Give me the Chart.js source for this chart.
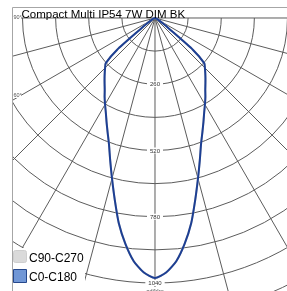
<!DOCTYPE html>
<html lang="en">
<head>
<meta charset="UTF-8">
<title>Compact Multi IP54 7W DIM BK</title>
<script src="https://cdn.jsdelivr.net/npm/chart.js"></script>
<style>
  html, body { margin: 0; padding: 0; background: #fff; }
  #wrap { position: relative; width: 287px; height: 291px; overflow: hidden; }
</style>
</head>
<body>
<div id="wrap"><canvas id="polar" width="287" height="291"></canvas></div>
<script>
const chartTitle = 'Compact Multi IP54 7W DIM BK';
const seriesNames = ['C90-C270', 'C0-C180'];
const unitLabel = 'cd/klm';

// gamma angle in degrees (0 = straight down), intensity in cd/klm
const gammaDeg = [-90, -80, -70, -60, -55, -52.5, -50, -47.5, -45, -42.5, -40, -37.5, -35, -32.5, -30, -27.5, -25, -22.5, -20, -17.5, -15, -12.5, -10, -7.5, -5, -2.5,
  0, 2.5, 5, 7.5, 10, 12.5, 15, 17.5, 20, 22.5, 25, 27.5, 30, 32.5, 35, 37.5, 40, 42.5, 45, 47.5, 50, 52.5, 55, 60, 70, 80, 90];
const c0c180 = [0, 2, 5, 15, 40, 75, 195, 262, 277, 292, 308, 325, 344, 368, 392, 418, 450, 486, 528, 585, 652, 730, 818, 893, 958, 1000,
  1020, 1000, 958, 893, 818, 730, 652, 585, 528, 486, 450, 418, 392, 368, 344, 325, 308, 292, 277, 262, 195, 75, 40, 15, 5, 2, 0];
// C90-C270 is hidden under C0-C180 in the picture
const c90c270 = [0, 2, 5, 15, 40, 75, 195, 262, 277, 292, 308, 325, 344, 368, 392, 418, 450, 486, 528, 585, 652, 730, 818, 893, 958, 1000,
  1020, 1000, 958, 893, 818, 730, 652, 585, 528, 486, 450, 418, 392, 368, 344, 325, 308, 292, 277, 262, 195, 75, 40, 15, 5, 2, 0];

// polar grid
const ringValues = [130, 260, 390, 520, 650, 780, 910, 1040, 1170, 1300];
const ringLabels = [260, 520, 780, 1040];
const spokeAngles = [-90, -75, -60, -45, -30, -15, 0, 15, 30, 45, 60, 75, 90];
const angleLabels = [90, 60, 30];

const rad = d => d * Math.PI / 180;
const toXY = (g, v) => ({ x: v * Math.sin(rad(g)), y: -v * Math.cos(rad(g)) });

// grid, frame, labels and legend drawn with the chart's own scales
const polarGrid = {
    id: 'polarGrid',
    beforeDatasetsDraw(chart) {
        const { ctx, scales: { x, y } } = chart;
        const ox = x.getPixelForValue(0), oy = y.getPixelForValue(0);
        const k = x.getPixelForValue(1) - ox;
        ctx.save();
        ctx.fillStyle = '#fff';
        ctx.fillRect(0, 0, chart.width, chart.height);
        // frame
        ctx.strokeStyle = '#a6a6a6';
        ctx.lineWidth = 1;
        ctx.beginPath();
        ctx.moveTo(12.5, chart.height);
        ctx.lineTo(12.5, 7.5);
        ctx.lineTo(chart.width, 7.5);
        ctx.stroke();

        ctx.beginPath();
        ctx.rect(13, 8, chart.width, chart.height);
        ctx.clip();
        ctx.strokeStyle = '#5c5c5c';
        ctx.lineWidth = 1;
        ringValues.forEach(v => {
            ctx.beginPath();
            ctx.arc(ox, oy, v * k, 0, Math.PI);
            ctx.stroke();
        });
        spokeAngles.forEach(g => {
            const p = toXY(g, 1500);
            ctx.beginPath();
            ctx.moveTo(ox, oy);
            ctx.lineTo(x.getPixelForValue(p.x), y.getPixelForValue(p.y));
            ctx.stroke();
        });

        // ring values on the 0 deg line
        ctx.font = '6px "Liberation Sans", Arial, sans-serif';
        ctx.textAlign = 'center';
        ctx.textBaseline = 'middle';
        ringLabels.forEach(v => {
            const py = y.getPixelForValue(-v);
            const w = ctx.measureText(String(v)).width;
            ctx.fillStyle = '#fff';
            ctx.fillRect(ox - w / 2 - 3, py - 3, w + 6, 6);
            ctx.fillStyle = '#333';
            ctx.fillText(String(v), ox, py + 0.5);
        });
        ctx.fillStyle = '#fff';
        ctx.fillRect(ox - 10, y.getPixelForValue(-1040) + 4, 20, 6);
        ctx.fillStyle = '#444';
        ctx.fillText(unitLabel, ox, y.getPixelForValue(-1040) + 8);

        // angle labels at the left frame
        ctx.font = '5.5px "Liberation Sans", Arial, sans-serif';
        ctx.textAlign = 'left';
        angleLabels.forEach(g => {
            const ly = g === 90 ? oy : oy + (ox - 20) / Math.tan(rad(g));
            ctx.fillStyle = '#fff';
            ctx.fillRect(13, ly - 3, 8, 5);
            ctx.fillStyle = '#555';
            ctx.fillText(g + '°', 13.5, ly - 0.5);
        });
        ctx.restore();
    },
    afterDatasetsDraw(chart) {
        const { ctx } = chart;
        ctx.save();
        // title
        ctx.font = '11.5px "Liberation Sans", Arial, sans-serif';
        ctx.fillStyle = '#000';
        ctx.textAlign = 'left';
        ctx.textBaseline = 'alphabetic';
        ctx.fillText(chartTitle, 21.5, 17.5);

        // legend
        ctx.fillStyle = '#fff';
        ctx.fillRect(13, 248, 72, 43);
        ctx.lineWidth = 1;
        ctx.fillStyle = '#dadada';
        ctx.strokeStyle = '#cecece';
        ctx.beginPath();
        ctx.roundRect(13.5, 250.5, 13, 12, 2);
        ctx.fill();
        ctx.stroke();
        ctx.fillStyle = '#7197d6';
        ctx.strokeStyle = '#26488c';
        ctx.beginPath();
        ctx.rect(13.5, 269.5, 13, 13);
        ctx.fill();
        ctx.stroke();
        ctx.font = '12px "Liberation Sans", Arial, sans-serif';
        ctx.fillStyle = '#000';
        ctx.fillText(seriesNames[0], 29, 261.5);
        ctx.fillText(seriesNames[1], 29, 281);
        ctx.restore();
    }
};

new Chart(document.getElementById('polar'), {
    type: 'scatter',
    data: {
        datasets: [{
            label: seriesNames[0],
            data: gammaDeg.map((g, i) => toXY(g, c90c270[i])),
            showLine: true,
            borderColor: '#c8c8c8',
            borderWidth: 2,
            pointRadius: 0,
            tension: 0.2,
            order: 1
        }, {
            label: seriesNames[1],
            data: gammaDeg.map((g, i) => toXY(g, c0c180[i])),
            showLine: true,
            borderColor: '#1d3f93',
            borderWidth: 2,
            pointRadius: 0,
            tension: 0.2,
            order: 0
        }]
    },
    options: {
        responsive: false,
        animation: false,
        events: [],
        layout: { padding: 0 },
        plugins: { legend: { display: false }, title: { display: false }, tooltip: { enabled: false } },
        scales: {
            x: { type: 'linear', display: false, min: -608.3, max: 518.05 },
            y: { type: 'linear', display: false, min: -1071.4, max: 70.64 }
        }
    },
    plugins: [polarGrid]
});
</script>
</body>
</html>
